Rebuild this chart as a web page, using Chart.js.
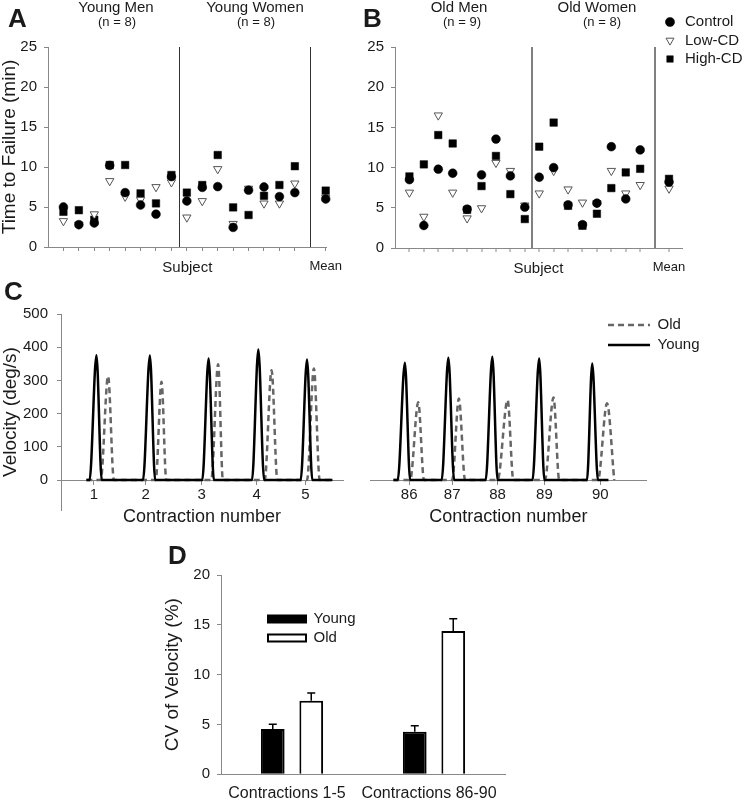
<!DOCTYPE html>
<html lang="en">
<head>
<meta charset="UTF-8" />
<title>Time to failure and velocity variability</title>
<script src="https://cdn.jsdelivr.net/npm/chart.js"></script>
<style>
  body { margin: 0; background: #fff; }
  #fig { position: relative; width: 750px; height: 800px; font-family: 'Liberation Sans', Arial, sans-serif; color: #1a1a1a; }
  #fig canvas { position: absolute; }
  .panel { position: absolute; font-weight: bold; font-size: 26px; line-height: 26px; }
  .grp { position: absolute; transform: translateX(-50%); white-space: nowrap; font-size: 15px; line-height: 15px; }
  .grp.n { font-size: 13px; line-height: 13px; }
</style>
</head>
<body>
<div id="fig">
  <canvas id="chartA" width="350" height="285" style="left:0;top:0"></canvas>
  <canvas id="chartB" width="400" height="285" style="left:350px;top:0"></canvas>
  <canvas id="chartC1" width="360" height="273" style="left:0;top:285px"></canvas>
  <canvas id="chartC2" width="390" height="273" style="left:360px;top:285px"></canvas>
  <canvas id="chartD" width="450" height="260" style="left:150px;top:540px"></canvas>

  <div class="panel" style="left:8px;top:5px">A</div>
  <div class="panel" style="left:363px;top:5px">B</div>
  <div class="panel" style="left:4px;top:278px">C</div>
  <div class="panel" style="left:168px;top:542px">D</div>

  <div class="grp" style="left:116px;top:-1px">Young Men</div>
  <div class="grp n" style="left:117px;top:15px">(n = 8)</div>
  <div class="grp" style="left:255px;top:-1px">Young Women</div>
  <div class="grp n" style="left:256px;top:15px">(n = 8)</div>
  <div class="grp" style="left:459px;top:-1px">Old Men</div>
  <div class="grp n" style="left:462px;top:15px">(n = 9)</div>
  <div class="grp" style="left:597px;top:-1px">Old Women</div>
  <div class="grp n" style="left:602px;top:15px">(n = 8)</div>
</div>

<script>
  // ---- panel A / B: time to failure per subject (men first, then women) ----
  const conditions = ['Control', 'Low-CD', 'High-CD'];

  const youngN = [8, 8];
  const youngControl = [5.0, 2.8, 3.0, 10.2, 6.8, 5.25, 4.1, 8.8, 5.75, 7.45, 7.55, 2.45, 7.1, 7.5, 6.3, 6.8];
  const youngLowCD = [3.25, 2.8, 4.1, 8.25, 6.3, 5.9, 7.5, 8.1, 3.7, 5.75, 9.75, 2.9, 7.3, 5.45, 5.45, 7.95];
  const youngHighCD = [4.4, 4.6, 3.4, 10.25, 10.25, 6.7, 5.45, 9.0, 6.8, 7.75, 11.5, 4.95, 4.0, 6.4, 7.75, 10.1];
  const youngMean = [6.0, 6.2, 7.05];

  const oldN = [9, 8];
  const oldControl = [8.5, 2.8, 9.8, 9.3, 4.83, 9.1, 13.55, 8.97, 5.08, 8.8, 10.0, 5.37, 2.9, 5.58, 12.6, 6.1, 12.2];
  const oldLowCD = [6.9, 3.9, 16.5, 6.9, 3.7, 4.96, 10.6, 9.6, 5.3, 6.8, 9.6, 7.3, 5.66, 5.58, 9.6, 6.8, 7.85];
  const oldHighCD = [8.9, 10.4, 14.05, 13.0, 4.75, 7.7, 11.45, 6.7, 3.6, 12.6, 15.6, 5.25, 2.77, 4.26, 7.45, 9.4, 9.85];
  const oldMean = [8.2, 7.4, 8.6];

  // ---- panel C: velocity traces (time in contraction units) ----
  const velTicks = [0, 100, 200, 300, 400, 500];

  const earlyTicks = [1, 1.98, 3.04, 4.08, 5.0];
  const earlyLabels = ['1', '2', '3', '4', '5'];
  const earlyYoungT = [0.86, 0.92, 1.05, 1.15, 1.93, 2.06, 2.16, 3.05, 3.17, 3.27, 3.99, 4.11, 4.22, 4.91, 5.03, 5.13, 5.51];
  const earlyYoungV = [0, 0, 376, 0, 0, 375, 0, 0, 366, 0, 0, 393, 0, 0, 363, 0, 0];
  const earlyOldT = [0.86, 1.13, 1.27, 1.38, 2.17, 2.28, 2.37, 3.22, 3.35, 3.44, 4.23, 4.36, 4.47, 5.03, 5.16, 5.27, 5.51];
  const earlyOldV = [0, 0, 313, 0, 0, 296, 0, 0, 349, 0, 0, 331, 0, 0, 336, 0, 0];

  const lateTicks = [86, 86.9, 87.85, 88.83, 90];
  const lateLabels = ['86', '87', '88', '89', '90'];
  const lateYoungT = [85.67, 85.76, 85.91, 86.02, 86.68, 86.82, 86.94, 87.6, 87.74, 87.85, 88.58, 88.72, 88.83, 89.72, 89.83, 89.95, 90.17];
  const lateYoungV = [0, 0, 353, 0, 0, 368, 0, 0, 371, 0, 0, 366, 0, 0, 351, 0, 0];
  const lateOldT = [85.67, 86.02, 86.19, 86.31, 86.9, 87.04, 87.17, 87.85, 88.06, 88.18, 88.84, 89.02, 89.14, 89.95, 90.14, 90.29];
  const lateOldV = [0, 0, 234, 0, 0, 246, 0, 0, 241, 0, 0, 249, 0, 0, 231, 0];

  // ---- panel D: CV of velocity ----
  const cvGroups = ['Contractions 1-5', 'Contractions 86-90'];
  const cvYoung = [4.55, 4.28];
  const cvYoungErr = [0.47, 0.6];
  const cvOld = [7.39, 14.38];
  const cvOldErr = [0.77, 1.24];

  Chart.defaults.font.family = "'Liberation Sans', Arial, sans-serif";
  Chart.defaults.color = '#1a1a1a';
  Chart.defaults.animation = false;
  Chart.defaults.events = [];
  Chart.defaults.plugins.tooltip.enabled = false;

  const AXIS = '#888';
  const NONE = 'rgba(0,0,0,0)';

  // legend takes no layout room and is drawn where options say
  const legendAt = {
    id: 'legendAt',
    beforeInit(chart) {
      const lg = chart.legend;
      const fit = lg.fit;
      lg.fit = function () { fit.call(this); this.width = 0; this.height = 0; };
    },
    afterLayout(chart, args, opts) {
      const lg = chart.legend;
      lg.left = opts.x; lg.top = opts.y;
      lg.width = 140; lg.height = 100;
      lg.right = opts.x + 140; lg.bottom = opts.y + 100;
    }
  };

  // upward error bars for panel D
  const errorBars = {
    id: 'errorBars',
    afterDatasetsDraw(chart) {
      const { ctx, scales: { y } } = chart;
      ctx.save();
      ctx.strokeStyle = '#000';
      ctx.lineWidth = 1.5;
      chart.data.datasets.forEach((ds, i) => {
        chart.getDatasetMeta(i).data.forEach((bar, j) => {
          const top = y.getPixelForValue(ds.data[j] + ds.errorBars[j]);
          ctx.beginPath();
          ctx.moveTo(bar.x, bar.y);
          ctx.lineTo(bar.x, top);
          ctx.moveTo(bar.x - 4, top);
          ctx.lineTo(bar.x + 4, top);
          ctx.stroke();
        });
      });
      ctx.restore();
    }
  };

  function subjectChart(id, n, control, low, high, mean, cfg) {
    const nSub = n[0] + n[1];
    const meanPos = nSub + 2;
    const dividers = [n[0] + 0.5, nSub + 1];
    const subjectLabelPos = +(cfg.xMax / 2).toFixed(2);
    const marks = control.map((v, i) => i + 1).concat([meanPos]);
    const labelAt = new Map([[meanPos, 'Mean'], [subjectLabelPos, 'Subject']]);
    const tickVals = Array.from(new Set(marks.concat(dividers, [subjectLabelPos]))).sort((a, b) => a - b);
    const pts = (vals, m) => vals.map((v, i) => ({ x: i + 1, y: v })).concat([{ x: meanPos, y: m }]);

    const markerStyles = [
      { pointStyle: 'circle', pointRadius: 4.4, pointRotation: 0, pointBackgroundColor: '#000', pointBorderColor: '#000', pointBorderWidth: 0.5 },
      { pointStyle: 'triangle', pointRadius: 4.8, pointRotation: 180, pointBackgroundColor: '#fff', pointBorderColor: '#555', pointBorderWidth: 1 },
      { pointStyle: 'rect', pointRadius: 5.3, pointRotation: 0, pointBackgroundColor: '#000', pointBorderColor: '#000', pointBorderWidth: 0.5 }
    ];
    const series = [control, low, high];

    return new Chart(document.getElementById(id), {
      type: 'scatter',
      data: {
        datasets: conditions.map((c, k) => Object.assign({
          label: c,
          data: pts(series[k], mean[k]),
          clip: false,
          pointHoverRadius: markerStyles[k].pointRadius
        }, markerStyles[k]))
      },
      options: {
        responsive: false,
        layout: { autoPadding: false, padding: cfg.padding },
        plugins: {
          legend: cfg.legend ? {
            display: true, position: 'right', align: 'start',
            labels: { usePointStyle: true, boxWidth: 15, boxHeight: 6.5, padding: 3.5, font: { size: 15 } }
          } : { display: false },
          legendAt: cfg.legendAt
        },
        scales: {
          x: {
            type: 'linear', min: 0, max: cfg.xMax,
            afterBuildTicks: s => { s.ticks = tickVals.map(v => ({ value: v })); },
            afterFit: s => { s.height = cfg.xAxisH; },
            ticks: {
              autoSkip: false, maxRotation: 0, padding: 8,
              callback: v => labelAt.get(v) || '',
              font: c => ({ size: c.tick && c.tick.value === meanPos ? 13 : 15 })
            },
            grid: {
              color: c => (c.tick && dividers.includes(c.tick.value)) ? cfg.divColor : NONE,
              lineWidth: cfg.divWidth,
              tickColor: c => (c.tick && marks.includes(c.tick.value)) ? AXIS : NONE,
              tickLength: 4, tickWidth: 1
            },
            border: { color: AXIS, width: 1 }
          },
          y: {
            min: 0, max: 25,
            afterFit: s => { s.width = cfg.yAxisW; },
            ticks: { stepSize: 5, padding: 7, font: { size: 15 } },
            grid: { drawOnChartArea: false, tickLength: 4, tickColor: AXIS },
            border: { color: AXIS, width: 1 },
            title: cfg.yTitle ? { display: true, text: cfg.yTitle, font: { size: 19, lineHeight: 1 }, padding: 0 } : { display: false }
          }
        }
      },
      plugins: cfg.legend ? [legendAt] : []
    });
  }

  subjectChart('chartA', youngN, youngControl, youngLowCD, youngHighCD, youngMean, {
    xMax: 18.05, padding: { left: 0, top: 47, right: 13, bottom: 0 },
    xAxisH: 38, yAxisW: 48, divColor: '#333', divWidth: 1,
    yTitle: 'Time to Failure (min)', legend: false
  });

  subjectChart('chartB', oldN, oldControl, oldLowCD, oldHighCD, oldMean, {
    xMax: 19.9, padding: { left: 0, top: 47, right: 68, bottom: 0 },
    xAxisH: 37, yAxisW: 45, divColor: '#808080', divWidth: 2,
    yTitle: null, legend: true, legendAt: { x: 309, y: 11 }
  });

  function traceChart(id, yT, yV, oT, oV, tickPos, tickLab, cfg) {
    const toPts = (t, v) => t.map((x, i) => ({ x: x, y: v[i] }));
    return new Chart(document.getElementById(id), {
      type: 'line',
      data: {
        datasets: [
          { label: 'Young', data: toPts(yT, yV), borderColor: '#000', borderWidth: 2.5, pointRadius: 0, cubicInterpolationMode: 'monotone', fill: false },
          { label: 'Old', data: toPts(oT, oV), borderColor: '#666', borderWidth: 2.5, borderDash: [6, 4], pointRadius: 0, cubicInterpolationMode: 'monotone', fill: false }
        ]
      },
      options: {
        responsive: false,
        // x axis sits on y = 0 and takes no layout room, so the bottom padding holds its labels
        layout: { autoPadding: false, padding: cfg.padding },
        plugins: {
          legend: cfg.legend ? {
            display: true, position: 'right', align: 'start', reverse: true,
            labels: {
              usePointStyle: true, pointStyleWidth: 42, padding: 5, font: { size: 15 },
              generateLabels: chart => chart.data.datasets.map((ds, i) => ({
                text: ds.label, datasetIndex: i, hidden: false,
                strokeStyle: ds.borderColor, fillStyle: ds.borderColor, fontColor: '#1a1a1a',
                lineWidth: ds.borderWidth, lineDash: ds.borderDash || [], pointStyle: 'line'
              }))
            }
          } : { display: false },
          legendAt: cfg.legendAt
        },
        scales: {
          x: {
            type: 'linear', min: cfg.xMin, max: cfg.xMax,
            position: { y: 0 },
            afterBuildTicks: s => { s.ticks = tickPos.map(v => ({ value: v })); },
            afterFit: s => { s.height = 48; },
            ticks: { autoSkip: false, maxRotation: 0, padding: 2, font: { size: 15 }, callback: (v, i) => tickLab[i] },
            grid: { drawOnChartArea: false, tickLength: 4, tickColor: AXIS },
            border: { color: AXIS, width: 1 },
            title: { display: true, text: 'Contraction number', font: { size: 18 }, padding: 0 }
          },
          y: {
            display: cfg.showY,
            min: -90, max: 500,
            afterBuildTicks: s => { s.ticks = velTicks.map(v => ({ value: v })); },
            afterFit: s => { s.width = cfg.showY ? 61 : 0; },
            ticks: { padding: 9, font: { size: 15 } },
            grid: { drawOnChartArea: false, tickLength: 4, tickColor: AXIS },
            border: { color: AXIS, width: 1 },
            title: { display: true, text: 'Velocity (deg/s)', font: { size: 19, lineHeight: 1 }, padding: { top: 1 } }
          }
        }
      },
      plugins: cfg.legend ? [legendAt] : []
    });
  }

  traceChart('chartC1', earlyYoungT, earlyYoungV, earlyOldT, earlyOldV, earlyTicks, earlyLabels, {
    xMin: 0.38, xMax: 5.71, showY: true,
    padding: { left: 0, top: 29, right: 17, bottom: 48 }, legend: false
  });

  traceChart('chartC2', lateYoungT, lateYoungV, lateOldT, lateOldV, lateTicks, lateLabels, {
    xMin: 85.18, xMax: 90.97, showY: false,
    padding: { left: 10, top: 29, right: 103.3, bottom: 48 },
    legend: true, legendAt: { x: 243, y: 27.5 }
  });

  new Chart(document.getElementById('chartD'), {
    type: 'bar',
    data: {
      labels: cvGroups,
      datasets: [
        { label: 'Young', data: cvYoung, errorBars: cvYoungErr, backgroundColor: '#000', borderColor: '#000', borderWidth: 2, categoryPercentage: 0.542, barPercentage: 0.616 },
        { label: 'Old', data: cvOld, errorBars: cvOldErr, backgroundColor: '#fff', borderColor: '#000', borderWidth: 2, categoryPercentage: 0.542, barPercentage: 0.616 }
      ]
    },
    options: {
      responsive: false,
      layout: { autoPadding: false, padding: { left: 0, top: 35, right: 95, bottom: 0 } },
      plugins: {
        legend: {
          display: true, position: 'right', align: 'start',
          labels: { boxWidth: 38, boxHeight: 7, padding: 4, font: { size: 15 } }
        },
        legendAt: { x: 114, y: 67.5 }
      },
      scales: {
        x: {
          afterFit: s => { s.height = 25.7; },
          ticks: { padding: 2, font: { size: 16 }, labelOffset: -5, maxRotation: 0 },
          grid: { display: false },
          border: { color: AXIS, width: 1 }
        },
        y: {
          min: 0, max: 20,
          afterFit: s => { s.width = 71; },
          ticks: { stepSize: 5, padding: 7, font: { size: 15 } },
          grid: { drawOnChartArea: false, tickLength: 4, tickColor: AXIS },
          border: { color: AXIS, width: 1 },
          title: { display: true, text: 'CV of Velocity (%)', font: { size: 19, lineHeight: 1 }, padding: { top: 13 } }
        }
      }
    },
    plugins: [legendAt, errorBars]
  });
</script>
</body>
</html>
